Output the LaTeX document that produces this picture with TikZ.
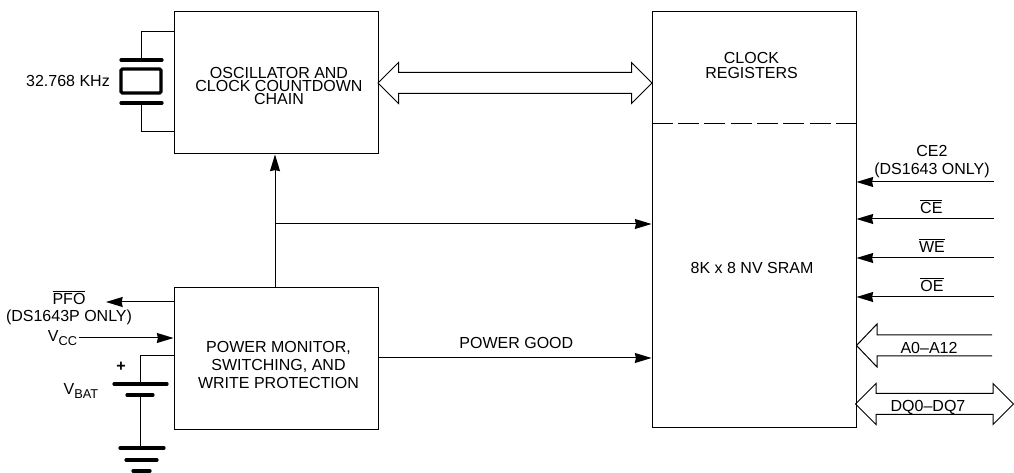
\documentclass[tikz,border=0pt]{standalone}
\usepackage{fontspec}
\setmainfont{Liberation Sans}
\usetikzlibrary{
  arrows.meta,
  shapes.arrows,
  positioning
}
\newcommand{\vsub}[1]{V\raisebox{-2.6pt}{\fontsize{9.6}{9.6}\selectfont #1}}
\newcommand{\barred}[1]{$\overline{\mbox{#1}}$}

\begin{document}
\begin{tikzpicture}[
  x=0.75pt, y=-0.75pt,
  every node/.style={font=\fontsize{12}{11.25}\selectfont, align=center, inner sep=0pt},
  my_box/.style={draw, line width=0.75pt, rectangle},
  my_wire/.style={draw, line width=0.75pt},
  my_signal/.style={my_wire, -{Stealth[length=12.5pt, width=7.5pt, inset=0.8pt]}},
  my_plate/.style={draw, line width=2.4pt, line cap=round},
  my_bus/.style={
    draw,
    line width=0.75pt,
    double arrow,
    double arrow head extend=7.5pt,
    double arrow tip angle=90,
    minimum width=30pt,
    text height=15pt,
    text depth=0pt,
    inner sep=0pt,
  }
  ]

  \path[use as bounding box] (0,0) rectangle (1014,473);

  % main blocks
  \node[my_box, minimum width=153pt, minimum height=106.5pt] (osc) at (276,83) {};
  \node[my_box, minimum width=153pt, minimum height=106.5pt] (power) at (276,359) {};
  \node[my_box, minimum width=153pt, minimum height=312pt] (ram) at (754,220) {};

  \node (osclabel) at (279,86) {OSCILLATOR AND\\[-1.2pt]CLOCK COUNTDOWN\\[-1.2pt]CHAIN};
  \node (powerlabel) at (278.5,365) {POWER MONITOR,\\[2.2pt]SWITCHING, AND\\[2.2pt]WRITE PROTECTION};
  \node (reglabel) at (751.5,65) {CLOCK\\REGISTERS};
  \node (ramlabel) at (752,268) {8K x 8 NV SRAM};
  \draw[dash pattern=on 15.75pt off 4pt, line width=0.75pt] (ram.west |- 0,124) -- (ram.east |- 0,124);

  % crystal
  \node (xtallabel) at (68,81) {32.768 KHz};
  \coordinate (xtaltop) at (141,60);
  \coordinate (xtalbot) at (141,103);
  \draw[my_wire] (osc.west |- 0,32) -| (xtaltop);
  \draw[my_wire] (osc.west |- 0,132) -| (xtalbot);
  \draw[my_plate] (121,60) -- (162,60);
  \draw[my_plate] (121,103) -- (162,103);
  \draw[line width=2.4pt, rounded corners=1pt] (121,69) rectangle (161,93);

  % bus between oscillator and registers
  \node[my_bus, minimum height=205.5pt] (regbus) at (515,83) {};

  % power connections
  \coordinate (vccbranch) at (275,224);
  \draw[my_signal] (power.north -| vccbranch) -- (osc.south -| vccbranch);
  \draw[my_signal] (vccbranch) -- (ram.west |- vccbranch);
  \coordinate (pgood) at (power.east |- 0,358);
  \draw[my_signal] (pgood) -- node[above=7pt, xshift=1pt] {POWER GOOD} (ram.west |- pgood);

  % left side signals
  \coordinate (pfoend) at (106,302);
  \draw[my_signal] (power.west |- pfoend) -- (pfoend);
  \node (pfolabel) at (69,308) {\barred{PFO}\\[1.5pt](DS1643P ONLY)};
  \node (vcclabel) at (62.5,338) {\vsub{CC}};
  \draw[my_signal] (vcclabel.east |- 0,338) ++(2,0) -- (power.west |- 0,338);

  % battery and ground
  \coordinate (batplus) at (140,384);
  \coordinate (batminus) at (140,395);
  \coordinate (gnd) at (140,448);
  \draw[my_wire] (power.west |- 0,356) -| (batplus);
  \draw[my_wire] (batminus) -- (gnd);
  \draw[my_plate] (114,384) -- (167,384);
  \draw[my_plate] (127,395) -- (153,395);
  \draw[my_plate] (120,448) -- (164,448);
  \draw[my_plate] (126,460) -- (157,460);
  \draw[my_plate] (133,471) -- (150,471);
  \node (pluslabel) at (121,367) {\textbf{+}};
  \node (vbatlabel) at (81,391) {\vsub{BAT}};

  % control inputs
  \foreach \y/\name in {182/cetwo, 219/ce, 258/we, 297/oe} {
    \coordinate (\name) at (994,\y);
    \draw[my_signal] (\name) -- (ram.east |- \name);
  }
  \node[above=3pt of cetwo, xshift=-46.5pt, anchor=south] (cetwolabel) {CE2\\[2.2pt](DS1643 ONLY)};
  \node[above=4pt of ce, xshift=-47pt, anchor=south] (celabel) {\barred{CE}};
  \node[above=4pt of we, xshift=-46.5pt, anchor=south] (welabel) {\barred{WE}};
  \node[above=4pt of oe, xshift=-46.5pt, anchor=south] (oelabel) {\barred{OE}};

  % address and data buses
  \coordinate (addr) at (ram.east |- 0,345.5);
  \draw[my_wire, line join=miter] (992,335) -- (877,335) -- (877,324) -- (addr) -- (877,367) -- (877,356) -- (992,356);
  \node (addrlabel) at (929,348) {A0--A12};
  \node[my_bus, minimum height=118.5pt] (databus) at (934.5,404) {};
  \node (datalabel) at (928,407) {DQ0--DQ7};

\end{tikzpicture}
\end{document}
